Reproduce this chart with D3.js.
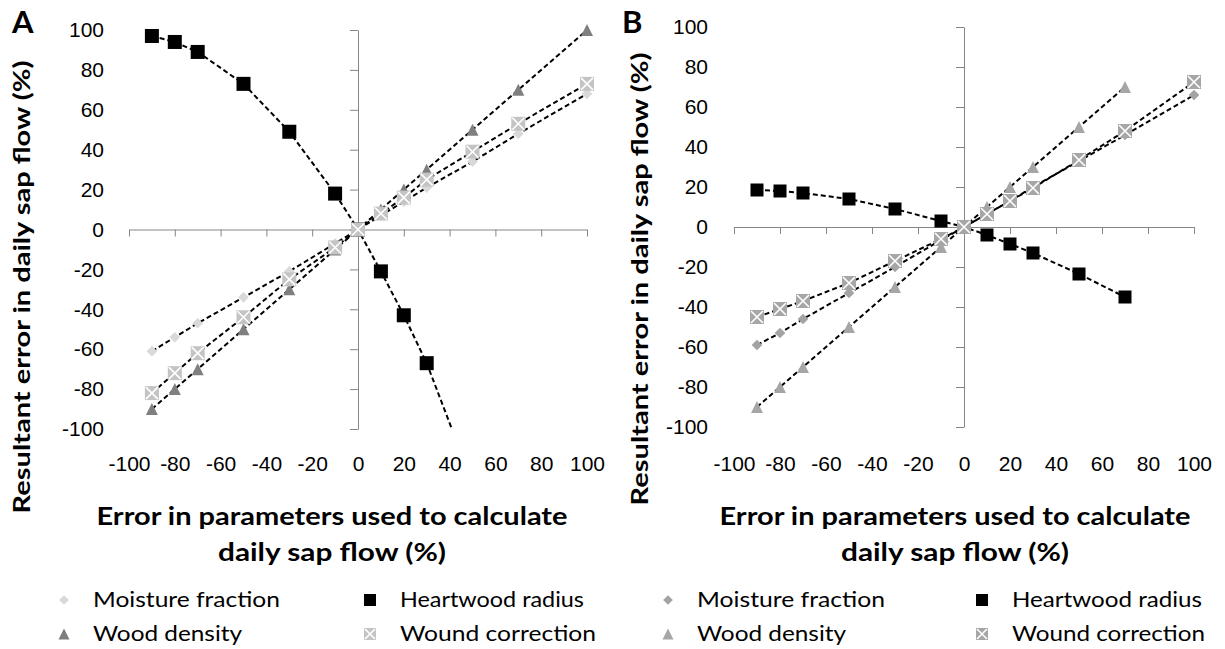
<!DOCTYPE html>
<html>
<head>
<meta charset="utf-8">
<script src="https://cdn.jsdelivr.net/npm/d3@7"></script>
<style>
    body { margin: 0; background: #fff; }
    svg { display: block; font-family: Lato, "Open Sans", sans-serif; }
    .tick-label text { fill: #000; }
</style>
</head>
<body>
<svg id="chart" width="1225" height="649"></svg>
<script>
    // axis ticks
    var axisTicks = [-100, -80, -60, -40, -20, 0, 20, 40, 60, 80, 100];

    // panel A
    var xA = [-90, -80, -70, -50, -30, -10, 0, 10, 20, 30, 50, 70, 100];
    var moistureA = [-61, -54, -47, -34, -21, -7, 0, 7, 14, 21, 34, 48, 68];
    var woodA = [-90, -80, -70, -50, -30, -10, 0, 10, 20, 30, 50, 70, 100];
    var woundA = [-82, -72, -62, -44, -25, -9, 0, 8, 16, 25, 39, 53, 73];
    var heartXA = [-90, -80, -70, -50, -30, -10, 0, 10, 20, 30, 50];
    var heartA = [97, 94, 89, 73, 49, 18, 0, -21, -43, -67, -127];

    // panel B
    var xB = [-90, -80, -70, -50, -30, -10, 0, 10, 20, 30, 50, 70, 100];
    var moistureB = [-59, -53, -46, -33, -20, -6.5, 0, 6.5, 13, 20, 33, 46, 66];
    var woundB = [-45, -41, -37, -28, -17, -6, 0, 6.5, 13, 19.5, 33.5, 48, 72.5];
    var shortXB = [-90, -80, -70, -50, -30, -10, 0, 10, 20, 30, 50, 70];
    var woodB = [-90, -80, -70, -50, -30, -10, 0, 10, 20, 30, 50, 70];
    var heartB = [18.5, 18, 17, 14, 9, 3, 0, -4, -8.5, -13, -23.5, -35];

    var seriesNames = ["Moisture fraction", "Heartwood radius", "Wood density", "Wound correction"];

    var svg = d3.select("#chart");

    function zip(xs, ys) {
        return xs.map(function(x, i) { return { x: x, y: ys[i] }; });
    }

    // marker painters, centred on 0,0
    function drawMarker(g, type, color, size) {
        var h = size / 2;
        if (type === "diamond") {
            g.append("path").attr("d", d3.symbol(d3.symbolDiamond2, size * size * 0.6)())
                .attr("fill", color);
        } else if (type === "square") {
            g.append("rect").attr("x", -h).attr("y", -h).attr("width", size).attr("height", size)
                .attr("fill", "#000");
        } else if (type === "triangle") {
            g.append("path").attr("d", "M0," + (-h) + "L" + h + "," + h + "L" + (-h) + "," + h + "Z")
                .attr("fill", color);
        } else if (type === "wound") {
            g.append("rect").attr("x", -h).attr("y", -h).attr("width", size).attr("height", size)
                .attr("fill", color);
            g.append("path").attr("d", "M" + (-h + 1) + "," + (-h + 1) + "L" + (h - 1) + "," + (h - 1) +
                "M" + (h - 1) + "," + (-h + 1) + "L" + (-h + 1) + "," + (h - 1))
                .attr("stroke", "#fff").attr("stroke-width", 1.6);
        }
    }

    function drawPanel(cfg) {
        var x = d3.scaleLinear().domain([-100, 100]).range(cfg.xRange);
        var y = d3.scaleLinear().domain([-100, 100]).range(cfg.yRange);
        var g = svg.append("g");
        var plain = function(d) { return String(d); };

        var clipId = "clip-" + cfg.letter;
        svg.append("clipPath").attr("id", clipId).append("rect")
            .attr("x", cfg.xRange[0] - 10).attr("y", y(100) - 10)
            .attr("width", cfg.xRange[1] - cfg.xRange[0] + 20).attr("height", y(-100) - y(100) + 10);

        // axes through the origin
        var yAxis = g.append("g").attr("transform", "translate(" + x(0) + ",0)")
            .call(d3.axisLeft(y).tickValues(axisTicks).tickSize(8).tickFormat("").tickSizeOuter(0));
        var xAxis = g.append("g").attr("transform", "translate(0," + y(0) + ")")
            .call(d3.axisBottom(x).tickValues(axisTicks).tickSize(7).tickFormat("").tickSizeOuter(0));
        [yAxis, xAxis].forEach(function(a) {
            a.selectAll("path, line").attr("stroke", "#868686").attr("stroke-width", 1);
        });

        // tick labels kept at the low side
        var yLab = g.append("g").attr("class", "tick-label")
            .attr("transform", "translate(" + cfg.yLabelX + ",0)")
            .call(d3.axisLeft(y).tickValues(axisTicks).tickSize(0).tickPadding(0).tickFormat(plain));
        yLab.select(".domain").remove();
        yLab.selectAll("text").attr("font-size", 21).attr("font-family", null);

        var xLab = g.append("g").attr("class", "tick-label")
            .attr("transform", "translate(0," + cfg.xLabelY + ")")
            .call(d3.axisBottom(x).tickValues(axisTicks).tickSize(0).tickPadding(0).tickFormat(plain));
        xLab.select(".domain").remove();
        xLab.selectAll("text").attr("font-size", 21).attr("font-family", null).attr("dy", "0.35em");

        // series
        var line = d3.line().x(function(d) { return x(d.x); }).y(function(d) { return y(d.y); });
        var plot = g.append("g").attr("clip-path", "url(#" + clipId + ")");

        cfg.series.forEach(function(s) {
            var pts = zip(s.xs, s.ys);
            plot.append("path").datum(pts)
                .attr("d", line)
                .attr("fill", "none")
                .attr("stroke", "#000")
                .attr("stroke-width", 2)
                .attr("stroke-dasharray", "5,3");
            pts.forEach(function(p) {
                var m = plot.append("g").attr("transform", "translate(" + x(p.x) + "," + y(p.y) + ")");
                drawMarker(m, s.type, s.color, s.size);
            });
        });

        // panel letter
        g.append("text").attr("x", cfg.letterX).attr("y", 33)
            .attr("font-size", 31).attr("font-weight", "bold")
            .text(cfg.letter);

        // y title
        g.append("text")
            .attr("transform", "translate(" + cfg.yTitle[0] + "," + cfg.yTitle[1] + ") rotate(-90)")
            .attr("text-anchor", "middle").attr("dy", "0.35em")
            .attr("font-size", 22).attr("font-weight", "bold")
            .attr("textLength", cfg.yTitle[2]).attr("lengthAdjust", "spacingAndGlyphs")
            .text("Resultant error in daily sap flow (%)");

        // x title, two lines
        g.append("text").attr("x", cfg.xTitleX).attr("y", 517).attr("dy", "0.35em")
            .attr("text-anchor", "middle").attr("font-size", 24).attr("font-weight", "bold")
            .attr("textLength", 471).attr("lengthAdjust", "spacingAndGlyphs")
            .text("Error in parameters used to calculate");
        g.append("text").attr("x", cfg.xTitleX).attr("y", 553).attr("dy", "0.35em")
            .attr("text-anchor", "middle").attr("font-size", 24).attr("font-weight", "bold")
            .attr("textLength", 228).attr("lengthAdjust", "spacingAndGlyphs")
            .text("daily sap flow (%)");

        // legend 2 x 2
        cfg.series.forEach(function(s, i) {
            var col = i % 2, row = Math.floor(i / 2);
            var lx = cfg.legendX[col], ly = 600 + row * 34;
            var m = g.append("g").attr("transform", "translate(" + lx + "," + ly + ")");
            drawMarker(m, s.type, s.color, s.legendSize);
            g.append("text").attr("x", lx + cfg.legendGap[col]).attr("y", ly).attr("dy", "0.35em")
                .attr("font-size", 21)
                .attr("textLength", cfg.legendLen[i]).attr("lengthAdjust", "spacingAndGlyphs")
                .text(s.name);
        });
    }

    drawPanel({
        letter: "A", letterX: 12,
        xRange: [129, 587], yRange: [429, 30],
        yLabelX: 104, xLabelY: 464,
        yTitle: [22, 287, 453], xTitleX: 332,
        legendX: [64, 370], legendGap: [29, 30], legendLen: [187, 184, 149, 196],
        series: [
            { name: seriesNames[0], xs: xA, ys: moistureA, type: "diamond", color: "#d9d9d9", size: 11, legendSize: 10 },
            { name: seriesNames[1], xs: heartXA, ys: heartA, type: "square", color: "#000", size: 14, legendSize: 12 },
            { name: seriesNames[2], xs: xA, ys: woodA, type: "triangle", color: "#7f7f7f", size: 12, legendSize: 11 },
            { name: seriesNames[3], xs: xA, ys: woundA, type: "wound", color: "#c4c4c4", size: 14, legendSize: 12 }
        ]
    });

    drawPanel({
        letter: "B", letterX: 622,
        xRange: [734, 1194], yRange: [427, 27],
        yLabelX: 708, xLabelY: 464,
        yTitle: [640, 279, 453], xTitleX: 955,
        legendX: [668, 982], legendGap: [29, 30], legendLen: [188, 190, 149, 193],
        series: [
            { name: seriesNames[0], xs: xB, ys: moistureB, type: "diamond", color: "#a3a3a3", size: 11, legendSize: 10 },
            { name: seriesNames[1], xs: shortXB, ys: heartB, type: "square", color: "#000", size: 13, legendSize: 12 },
            { name: seriesNames[2], xs: shortXB, ys: woodB, type: "triangle", color: "#a6a6a6", size: 12, legendSize: 11 },
            { name: seriesNames[3], xs: xB, ys: woundB, type: "wound", color: "#a6a6a6", size: 14, legendSize: 12 }
        ]
    });
</script>
</body>
</html>
